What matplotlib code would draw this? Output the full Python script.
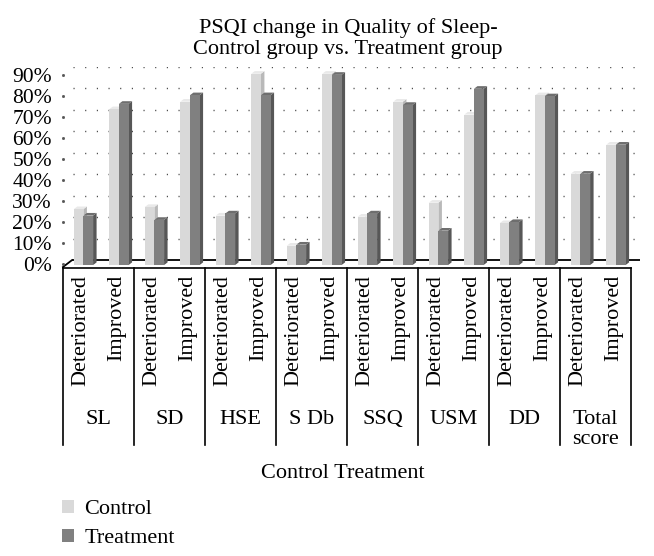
import numpy as np
import matplotlib
matplotlib.use("Agg")
import matplotlib.pyplot as plt
from matplotlib.patches import Polygon, Patch

plt.rcParams['font.family'] = ['Liberation Serif', 'DejaVu Serif']

# ---------------- data ----------------
groups = ["SL", "SD", "HSE", "S Db", "SSQ", "USM", "DD", "Total\nscore"]
subcats = ["Deteriorated", "Improved"]
control = [26, 72.5, 27, 76, 23, 89, 9, 89, 22.5, 76, 29, 70, 19.5, 79, 42.5, 56]
treatment = [23, 75, 21, 79, 24, 79, 9.5, 88.5, 24, 74.5, 16, 82, 20, 78.5, 42.5, 56]
yticks = list(range(0, 100, 10))
ytick_labels = [f"{t}%" for t in yticks]
series_names = ["Control", "Treatment"]

# ---------------- styling ----------------
W, H = 654, 556
fig = plt.figure(figsize=(W / 100, H / 100), dpi=100)

ax_l, ax_r, ax_b, ax_t = 72, 640, 264, 66.7   # pixel geometry of back wall
ax = fig.add_axes([ax_l / W, (H - ax_b) / H, (ax_r - ax_l) / W, (ax_b - ax_t) / H])
n = len(control)
ax.set_xlim(0, n)
ax.set_ylim(0, 90)
for s in ax.spines.values():
    s.set_visible(False)
ax.set_xticks([])

pxx = (ax_r - ax_l) / n            # pixels per slot
pxy = (ax_b - ax_t) / 90.0         # pixels per percent

def dxu(px):
    return px / pxx

def dyu(px):
    return px / pxy

# front plane offset
FX, FY = dxu(-9), dyu(-7)
# bar front and back faces
bfx, bfy = dxu(-6.4), dyu(-5)
bbx, bby = dxu(-2.9), dyu(-2.3)
bw = 0.272
start = 0.23

cols = {
    "Control": dict(front="#d9d9d9", side="#b9b9b9", top="#e9e9e9"),
    "Treatment": dict(front="#808080", side="#575757", top="#6e6e6e"),
}

# gridlines (back wall)
ax.hlines(yticks[1:], 0.02, n, colors="#444444", linewidth=1.0,
          linestyles=(0, (0.8, 7.6)), zorder=1)
# baseline
ax.plot([0, n], [0, 0], color="black", lw=1.3, zorder=2, solid_capstyle="butt")
ax.plot([FX, 0], [FY, 0], color="black", lw=1.3, zorder=2, clip_on=False)

# y tick labels at front plane
label_pos = [t * 0.978 - 1.8 for t in yticks]
ax.set_yticks(label_pos, ytick_labels)
ax.tick_params(axis="y", length=0, pad=14.5, labelsize=15.5)
ax.plot([FX] * len(label_pos), label_pos, ls="none", marker="s", ms=1.0,
        color="#555555", clip_on=False, zorder=2)

# bars
for i in range(n):
    for s_idx, (name, vals) in enumerate(zip(series_names, [control, treatment])):
        v = vals[i]
        c = cols[name]
        xl = i + start + s_idx * bw
        side = Polygon([(xl + bfx + bw, bfy), (xl + bfx + bw, v + bfy),
                        (xl + bbx + bw, v + bby), (xl + bbx + bw, bby)],
                       closed=True, fc=c["side"], ec="none", zorder=3 + s_idx * 3,
                       clip_on=False)
        top = Polygon([(xl + bfx, v + bfy), (xl + bfx + bw, v + bfy),
                       (xl + bbx + bw, v + bby), (xl + bbx, v + bby)],
                      closed=True, fc=c["top"], ec="none", zorder=4 + s_idx * 3,
                      clip_on=False)
        ax.add_patch(side)
        ax.add_patch(top)
        ax.bar(xl + bfx, v, bottom=bfy, width=bw, align="edge", color=c["front"],
               edgecolor="none", zorder=5 + s_idx * 3, clip_on=False)

# category axis (front plane)
y_line = -dyu(272 - 264)
y_div_end = -dyu(453 - 264)
ax.plot([FX, n + FX], [y_line, y_line], color="black", lw=1.2, clip_on=False)
for k in range(len(groups) + 1):
    ax.plot([2 * k + FX] * 2, [y_line, y_div_end], color="black", lw=1.2,
            clip_on=False)
y_sub = -dyu(279 - 264)
for i in range(n):
    ax.text(i + 0.5 + FX, y_sub, subcats[i % 2], rotation=90, ha="center",
            va="top", fontsize=16, clip_on=False)
y_grp = -dyu(417 - 264)
for k, g in enumerate(groups):
    ax.text(2 * k + 1 + FX, y_grp, g, ha="center", va="top", fontsize=16,
            linespacing=1.05, clip_on=False)

# axis title
fig.text(343 / W, (H - 473) / H, "Control Treatment", ha="center", va="center",
         fontsize=16)

# title
fig.text(348 / W, (H - 18) / H,
         "PSQI change in Quality of Sleep-\nControl group vs. Treatment group",
         ha="center", va="top", fontsize=16, linespacing=1.15)

# legend
handles = [Patch(fc=cols[nm]["front"], ec="none") for nm in series_names]
fig.legend(handles, series_names, loc="upper left",
           bbox_to_anchor=(53 / W, (H - 491) / H), frameon=False, fontsize=16,
           handlelength=0.55, handleheight=0.55, handletextpad=0.45,
           labelspacing=0.42, borderaxespad=0)

fig.savefig("out.png", dpi=100)
